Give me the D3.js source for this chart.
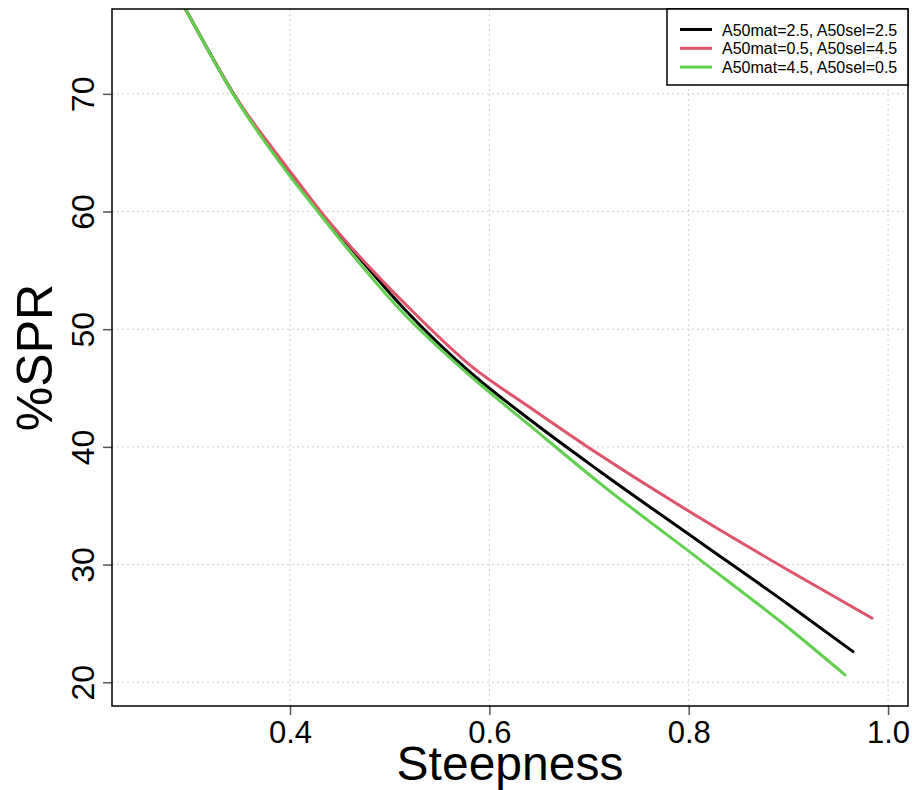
<!DOCTYPE html>
<html>
<head>
<meta charset="utf-8">
<script src="https://cdn.jsdelivr.net/npm/d3@7/dist/d3.min.js"></script>
<style>
  body { margin: 0; background: #fff; }
  svg { display: block; font-family: "Liberation Sans", Arial, sans-serif; }
</style>
</head>
<body>
<div id="chart"></div>
<script>
// tick values
const xTicks = [0.4, 0.6, 0.8, 1.0];
const yTicks = [20, 30, 40, 50, 60, 70];

// series (steepness, %SPR)
const steepBlack = [0.285, 0.2947, 0.3428, 0.4, 0.4286, 0.46, 0.5154, 0.5806, 0.6408, 0.711, 0.8114, 0.9017, 0.9649];
const sprBlack   = [78.7, 77.25, 70.07, 63.13, 60.08, 57.0, 51.66, 46.35, 42.3, 37.91, 31.9, 26.5, 22.6];

const steepRed = [0.285, 0.2947, 0.3428, 0.4, 0.4301, 0.46, 0.5184, 0.5806, 0.6408, 0.711, 0.8114, 0.9017, 0.9839];
const sprRed   = [78.7, 77.25, 70.07, 63.42, 60.08, 57.1, 51.9, 46.95, 43.35, 39.3, 33.95, 29.43, 25.44];

const steepGreen = [0.285, 0.2947, 0.3428, 0.4, 0.4271, 0.46, 0.5104, 0.5806, 0.6408, 0.711, 0.8114, 0.9017, 0.9568];
const sprGreen   = [78.7, 77.25, 70.0, 63.0, 60.08, 56.6, 51.66, 46.05, 41.8, 36.9, 30.4, 24.5, 20.62];

const legendLabels = ["A50mat=2.5, A50sel=2.5", "A50mat=0.5, A50sel=4.5", "A50mat=4.5, A50sel=0.5"];
const colors = ["#000000", "#DF536B", "#61D04F"];

const series = [
  { steep: steepBlack, spr: sprBlack },
  { steep: steepRed, spr: sprRed },
  { steep: steepGreen, spr: sprGreen }
];

const W = 912, H = 790;
const margin = { left: 112, top: 9, right: 4, bottom: 84 };
const pw = W - margin.left - margin.right;
const ph = H - margin.top - margin.bottom;

const svg = d3.select('#chart').append('svg')
    .attr('width', W)
    .attr('height', H);

const x = d3.scaleLinear().domain([0.2214, 1.020]).range([0, pw]);
const y = d3.scaleLinear().domain([17.98, 77.21]).range([ph, 0]);

const g = svg.append('g').attr('transform', `translate(${margin.left},${margin.top})`);

svg.append('defs').append('clipPath').attr('id', 'clip')
  .append('rect').attr('width', pw).attr('height', ph);

// grid
g.append('g').selectAll('line')
  .data(xTicks).join('line')
    .attr('x1', d => x(d)).attr('x2', d => x(d))
    .attr('y1', 0).attr('y2', ph)
    .attr('stroke', '#cfcfcf').attr('stroke-dasharray', '2,3');
g.append('g').selectAll('line')
  .data(yTicks).join('line')
    .attr('x1', 0).attr('x2', pw)
    .attr('y1', d => y(d)).attr('y2', d => y(d))
    .attr('stroke', '#cfcfcf').attr('stroke-dasharray', '2,3');

// curves
const line = d3.line()
    .x(d => x(d[0]))
    .y(d => y(d[1]))
    .curve(d3.curveMonotoneX);

series.forEach((s, i) => {
  g.append('path')
    .datum(d3.zip(s.steep, s.spr))
    .attr('clip-path', 'url(#clip)')
    .attr('fill', 'none')
    .attr('stroke', colors[i])
    .attr('stroke-width', 3)
    .attr('stroke-linecap', 'round')
    .attr('stroke-linejoin', 'round')
    .attr('d', line);
});

// axes
const xAxis = g.append('g')
    .attr('transform', `translate(0,${ph})`)
    .call(d3.axisBottom(x).tickValues(xTicks).tickFormat(d3.format('.1f')).tickSize(9));
xAxis.select('.domain').remove();
xAxis.selectAll('.tick line').attr('stroke', '#555').attr('stroke-width', 1.5);
xAxis.selectAll('.tick text').attr('font-size', 31).attr('fill', '#000')
    .attr('font-family', '"Liberation Sans", Arial, sans-serif')
    .attr('y', null).attr('dy', null).attr('transform', 'translate(0,37)');

const yAxis = g.append('g')
    .call(d3.axisLeft(y).tickValues(yTicks).tickSize(9));
yAxis.select('.domain').remove();
yAxis.selectAll('.tick line').attr('stroke', '#555').attr('stroke-width', 1.5);
yAxis.selectAll('.tick text')
    .attr('font-size', 32).attr('fill', '#000')
    .attr('font-family', '"Liberation Sans", Arial, sans-serif')
    .attr('x', null).attr('dy', null)
    .attr('text-anchor', 'middle')
    .attr('transform', 'translate(-18,0) rotate(-90)');

// box
g.append('rect')
    .attr('width', pw).attr('height', ph)
    .attr('fill', 'none').attr('stroke', '#000').attr('stroke-width', 1.5);

// axis titles
svg.append('text')
    .attr('x', margin.left + pw / 2).attr('y', 780)
    .attr('text-anchor', 'middle').attr('font-size', 48)
    .text('Steepness');
svg.append('text')
    .attr('transform', `translate(52,${margin.top + ph / 2}) rotate(-90)`)
    .attr('text-anchor', 'middle').attr('font-size', 50)
    .text('%SPR');

// legend
const lg = svg.append('g').attr('transform', 'translate(667,9)');
lg.append('rect')
    .attr('width', 908 - 667).attr('height', 76)
    .attr('fill', '#fff').attr('stroke', '#000').attr('stroke-width', 1.5);
legendLabels.forEach((lab, i) => {
  const yy = 20.5 + i * 18.8;
  lg.append('line')
    .attr('x1', 13).attr('x2', 45).attr('y1', yy).attr('y2', yy)
    .attr('stroke', colors[i]).attr('stroke-width', 3);
  lg.append('text')
    .attr('x', 55).attr('y', yy + 6)
    .attr('font-size', 16)
    .text(lab);
});
</script>
</body>
</html>
